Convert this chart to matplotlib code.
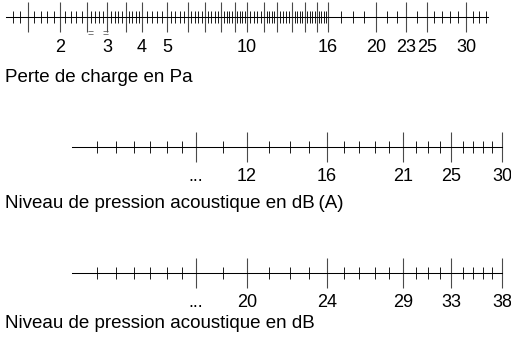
import numpy as np
import matplotlib
matplotlib.use("Agg")
import matplotlib.pyplot as plt

plt.rcParams['font.family'] = ['Liberation Sans', 'DejaVu Sans']

W, H = 511, 340

# calibration of the pressure-loss scale: value in Pa -> position along the scale (px)
pa_values = [1.2, 1.3, 1.5, 2, 2.5, 3, 3.5, 4, 5, 6, 7, 8, 9, 10, 11, 12, 13, 14, 15, 16,
             17, 18, 19, 20, 21, 22, 23, 24, 25, 26, 27, 28, 29, 30, 31, 32, 33, 33.3]
pa_pos = [6, 13, 28, 60, 87, 107, 126, 142, 167, 188, 205, 221, 235, 247, 264, 277, 292, 305, 317, 328,
          341, 353, 364, 376, 387, 397, 406, 417, 427, 434, 442, 450, 458, 466, 473, 479, 486, 488]
pa_major = [1.5, 2, 2.5, 3, 3.5, 4, 5, 6, 7, 8, 9, 10, 11, 12, 13, 14, 15, 16, 20, 23, 25, 30]
pa_text = {2: '2', 3: '3', 4: '4', 5: '5', 10: '10', 16: '16', 20: '20', 23: '23', 25: '25', 30: '30'}

# calibration of the noise scales (dB(A)); the dB scale sits on the same ticks, 8 dB higher
dba_values = list(range(3, 31))
dba_pos = [72, 97, 116, 134, 150, 167, 182, 196, 223, 247, 269, 290, 309, 327,
           344, 359, 375, 389, 403, 416, 428, 440, 451, 463, 473, 483, 492, 502]
dba_major = [10, 12, 16, 21, 25, 30]
dba_labels = ['...', '12', '16', '21', '25', '30']
db_labels = ['...', '20', '24', '29', '33', '38']

fig = plt.figure(figsize=(W / 100, H / 100), dpi=100)


def draw_scale(vals, pos, major, labels, minor, y_line, title, title_y, pad):
    x0, x1 = pos[0], pos[-1]
    ax = fig.add_axes([x0 / W, 1 - y_line / H, (x1 - x0) / W, 1e-4])
    fwd = lambda v: np.interp(v, vals, pos)
    inv = lambda p: np.interp(p, pos, vals)
    ax.set_xscale('function', functions=(fwd, inv))
    ax.set_xlim(vals[0], vals[-1])
    ax.set_ylim(0, 1)
    ax.set_yticks([])
    for s in ['top', 'left', 'right']:
        ax.spines[s].set_visible(False)
    ax.spines['bottom'].set_linewidth(0.75)
    ax.patch.set_visible(False)
    ax.set_xticks(major, labels=labels)
    ax.set_xticks(minor, minor=True)
    ax.tick_params(axis='x', which='major', direction='inout', length=21, width=0.8,
                   color='#4a4a4a', pad=pad, labelsize=13)
    ax.tick_params(axis='x', which='minor', direction='inout', length=9, width=0.7,
                   color='#1a1a1a')
    fig.text(5 / W, 1 - title_y / H, title, fontsize=13.5, va='center', ha='left')
    return ax


# minor ticks of the Pa scale
pa_minor = []
for a, b, step in [(1.3, 4.0, 0.1), (4.2, 16.0, 0.2)]:
    for v in np.arange(a, b - 1e-6, step):
        v = round(v, 2)
        if v not in pa_major:
            pa_minor.append(v)
pa_minor += [17, 18, 19, 21, 22, 24, 26, 27, 28, 29, 31, 32, 33]

ax_pa = draw_scale(pa_values, pa_pos, pa_major, [pa_text.get(v, '') for v in pa_major],
                   pa_minor, 17, 'Perte de charge en Pa', 78, 5)
for v in [2.6, 2.97]:
    ax_pa.annotate('=', xy=(v, H - 34), xycoords=('data', 'figure pixels'),
                   fontsize=7.5, ha='center', va='center', color='#555555')

dba_minor = [v for v in dba_values[1:] if v not in dba_major]
draw_scale(dba_values, dba_pos, dba_major, dba_labels, dba_minor, 147,
           'Niveau de pression acoustique en dB\u2009(A)', 203, 4.5)
draw_scale(dba_values, dba_pos, dba_major, db_labels, dba_minor, 273,
           'Niveau de pression acoustique en dB', 324, 4.5)

fig.savefig('out.png', dpi=100)
